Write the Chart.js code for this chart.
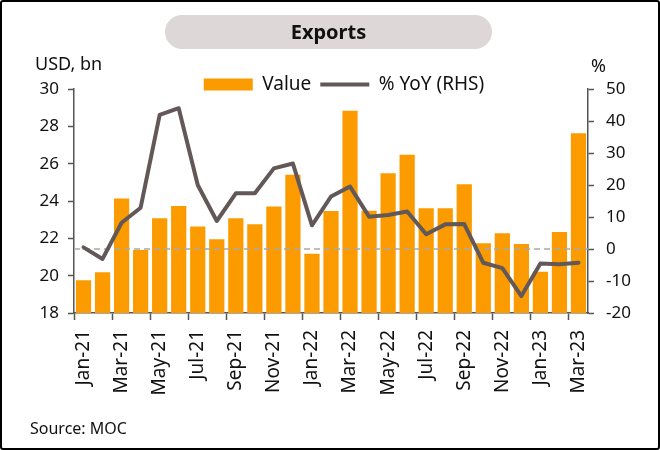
<!DOCTYPE html>
<html>
<head>
<meta charset="utf-8">
<script src="https://cdn.jsdelivr.net/npm/chart.js@4.4.1/dist/chart.umd.min.js"></script>
<style>
  html, body { margin:0; padding:0; background:#fff; }
  #wrap { position:relative; width:660px; height:450px; box-sizing:border-box; border:2px solid #000; border-radius:3px; overflow:hidden; font-family:"Noto Sans", sans-serif; color:#111; }
  #c { position:absolute; left:-2px; top:-2px; }
  #title { position:absolute; left:163px; top:13px; width:327px; height:34px; background:#ddd7d7; border-radius:17px; text-align:center; line-height:34px; font-weight:bold; font-size:20px; color:#111; }
  .lbl { position:absolute; font-size:18px; color:#111; white-space:nowrap; }
  #src { position:absolute; left:28px; top:415px; font-size:16px; color:#111; }
</style>
</head>
<body>
<div id="wrap">
  <canvas id="c" width="660" height="450"></canvas>
  <div id="title">Exports</div>
  <div class="lbl" style="left:33px;top:49px;">USD, bn</div>
  <div class="lbl" style="left:589px;top:51px;">%</div>
  <div id="src">Source: MOC</div>
</div>
<script>
const categories = ["Jan-21","Feb-21","Mar-21","Apr-21","May-21","Jun-21","Jul-21","Aug-21","Sep-21","Oct-21","Nov-21","Dec-21",
  "Jan-22","Feb-22","Mar-22","Apr-22","May-22","Jun-22","Jul-22","Aug-22","Sep-22","Oct-22","Nov-22","Dec-22",
  "Jan-23","Feb-23","Mar-23"];
const exportValue = [19.75,20.18,24.13,21.38,23.07,23.73,22.63,21.95,23.07,22.75,23.7,25.4,
  21.18,23.47,28.84,23.48,25.48,26.48,23.61,23.61,24.9,21.73,22.27,21.7,
  20.21,22.34,27.63];
const yoyPct = [0.5,-3.1,8.2,12.9,41.9,44.0,20.0,8.75,17.4,17.4,25.2,26.7,
  7.4,16.4,19.5,10.1,10.6,11.7,4.6,7.7,7.8,-4.3,-6.0,-14.7,
  -4.5,-4.8,-4.3];
const leftTicks = [18,20,22,24,26,28,30];
const rightTicks = [-20,-10,0,10,20,30,40,50];

const AX = '#555555';
const zeroLine = {
  id:'zeroLine',
  beforeDatasetDraw(chart, args) {
    if (args.index !== 1) return;
    const y = chart.scales.y1.getPixelForValue(0);
    const {left, right} = chart.chartArea;
    const ctx = chart.ctx;
    ctx.save();
    ctx.strokeStyle = '#a9a9a9';
    ctx.lineWidth = 1.5;
    ctx.setLineDash([6,4]);
    ctx.beginPath(); ctx.moveTo(left, y); ctx.lineTo(right, y); ctx.stroke();
    ctx.restore();
  }
};
const legendShift = {
  id:'legendShift',
  afterLayout(chart) {
    const l = chart.legend;
    if (l) { l.top += 15; l.bottom += 15; }
  }
};

new Chart(document.getElementById('c'), {
  data: {
    labels: categories,
    datasets: [
      { type:'bar', label:'Value', data: exportValue, backgroundColor:'#fb9b00', borderWidth:0,
        barPercentage:0.8, categoryPercentage:1.0, yAxisID:'y', order:1 },
      { type:'line', label:'% YoY (RHS)', data: yoyPct, borderColor:'#625858', backgroundColor:'#625858',
        borderWidth:4, pointRadius:0, tension:0, borderJoinStyle:'round', borderCapStyle:'round', yAxisID:'y1', order:0 }
    ]
  },
  options: {
    responsive:false,
    animation:false,
    devicePixelRatio:1,
    layout: { padding: { left:30, right:2, top:51, bottom:0 } },
    plugins: {
      tooltip: { enabled:false },
      legend: {
        display:true, position:'top', align:'center',
        labels: {
          usePointStyle:true, pointStyleWidth:49, boxHeight:12, padding:9,
          font:{ family:'"Noto Sans", sans-serif', size:19 }, color:'#111',
          generateLabels(chart) {
            return chart.data.datasets.map((ds, i) => ({
              text: ds.label,
              fillStyle: ds.backgroundColor,
              strokeStyle: ds.type === 'line' ? ds.borderColor : ds.backgroundColor,
              lineWidth: ds.type === 'line' ? 4 : 0,
              pointStyle: ds.type === 'line' ? 'line' : 'rect',
              datasetIndex: i, hidden:false, fontColor:'#111'
            }));
          }
        }
      }
    },
    scales: {
      x: {
        type:'category', offset:true,
        grid: { offset:true, drawOnChartArea:false, drawTicks:true, tickLength:7, tickWidth:1.5,
          color: ctx => (ctx.index !== undefined && ctx.index % 2 === 0) ? AX : 'rgba(0,0,0,0)',
          tickColor: ctx => (ctx.index !== undefined && ctx.index % 2 === 0) ? AX : 'rgba(0,0,0,0)' },
        border: { color:AX, width:1.5 },
        ticks: { autoSkip:false, minRotation:90, maxRotation:90, padding:10, color:'#111',
          font:{ family:'"Noto Sans", sans-serif', size:19 },
          callback: (v, i) => i % 2 === 0 ? categories[i] : '' },
        afterFit: s => { s.height = 137; }
      },
      y: {
        position:'left', min:18, max:30,
        afterBuildTicks: s => { s.ticks = leftTicks.map(v => ({value:v})); },
        grid: { drawOnChartArea:false, tickLength:6, tickWidth:1.5, color:AX, tickColor:AX },
        border: { color:AX, width:1.5 },
        ticks: { padding:9, color:'#111', font:{ family:'"Noto Sans", sans-serif', size:17 } },
        afterFit: s => { s.width = 44; }
      },
      y1: {
        position:'right', min:-20, max:50,
        afterBuildTicks: s => { s.ticks = rightTicks.map(v => ({value:v})); },
        grid: { drawOnChartArea:false, tickLength:6, tickWidth:1.5, color:AX, tickColor:AX },
        border: { color:AX, width:1.5 },
        ticks: { padding:12, color:'#111', font:{ family:'"Noto Sans", sans-serif', size:17 } },
        afterFit: s => { s.width = 70; }
      }
    }
  },
  plugins:[zeroLine, legendShift]
});
</script>
</body>
</html>
